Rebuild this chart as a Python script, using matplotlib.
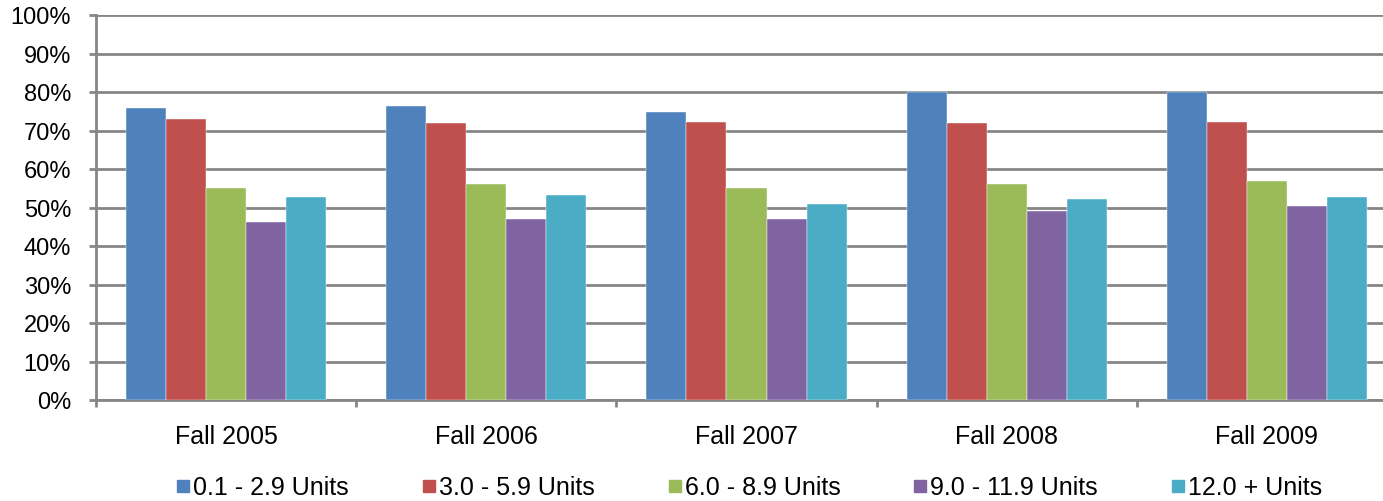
import numpy as np
import matplotlib
matplotlib.use("Agg")
import matplotlib.pyplot as plt
from matplotlib.lines import Line2D

plt.rcParams['font.family'] = ['Liberation Sans', 'DejaVu Sans']

terms = ['Fall 2005', 'Fall 2006', 'Fall 2007', 'Fall 2008', 'Fall 2009']
unit_groups = ['0.1 - 2.9 Units', '3.0 - 5.9 Units', '6.0 - 8.9 Units',
               '9.0 - 11.9 Units', '12.0 + Units']
colors = ['#4F81BD', '#C0504D', '#9BBB59', '#8064A2', '#4BACC6']

units_0_3 = [75.8, 76.4, 74.7, 79.9, 79.9]
units_3_6 = [72.9, 71.9, 72.3, 71.9, 72.3]
units_6_9 = [55.0, 56.2, 55.0, 56.2, 56.8]
units_9_12 = [46.3, 46.9, 46.9, 49.2, 50.4]
units_12_plus = [52.7, 53.3, 51.0, 52.1, 52.7]
series = [units_0_3, units_3_6, units_6_9, units_9_12, units_12_plus]

W, H = 1383, 502
fig = plt.figure(figsize=(W / 100, H / 100), dpi=100)
ax = fig.add_axes([96 / W, 1 - 401 / H, (1397 - 96) / W, (401 - 16) / H])

grid_c = '#868686'
x = np.arange(len(terms))
bw = 1 / 6.5
for i, vals in enumerate(series):
    ax.bar(x + (i - 2) * bw, vals, width=bw, color=colors[i],
           edgecolor='white', linewidth=0.3, zorder=3)

ax.set_xlim(-0.5, len(terms) - 0.5)
ax.set_ylim(0, 100)
ax.set_yticks(range(0, 101, 10))
ax.set_yticklabels([f'{v}%' for v in range(0, 101, 10)], fontsize=17)
ax.yaxis.grid(True, color=grid_c, linewidth=2, zorder=0)
ax.set_axisbelow(True)

ax.set_xticks(np.arange(-0.5, len(terms)), minor=False)
ax.set_xticklabels([])
ax.set_xticks(x, minor=True)
ax.set_xticklabels(terms, minor=True, fontsize=18)
ax.tick_params(axis='x', which='minor', length=0, pad=17)
ax.tick_params(axis='x', which='major', length=5, width=2, color=grid_c)
ax.tick_params(axis='y', length=5, width=2, color=grid_c, pad=13)

for s in ['top', 'right']:
    ax.spines[s].set_visible(False)
for s in ['left', 'bottom']:
    ax.spines[s].set_color(grid_c)
    ax.spines[s].set_linewidth(2)

handles = [Line2D([], [], marker='s', linestyle='none', markersize=9,
                  markerfacecolor=c, markeredgecolor=c) for c in colors]
fig.legend(handles, unit_groups, loc='center', bbox_to_anchor=(0.541, 0.027),
           ncol=5, frameon=False, fontsize=18, handletextpad=0.05,
           columnspacing=2.85, handlelength=0.7)

fig.savefig('out.png', dpi=100)
